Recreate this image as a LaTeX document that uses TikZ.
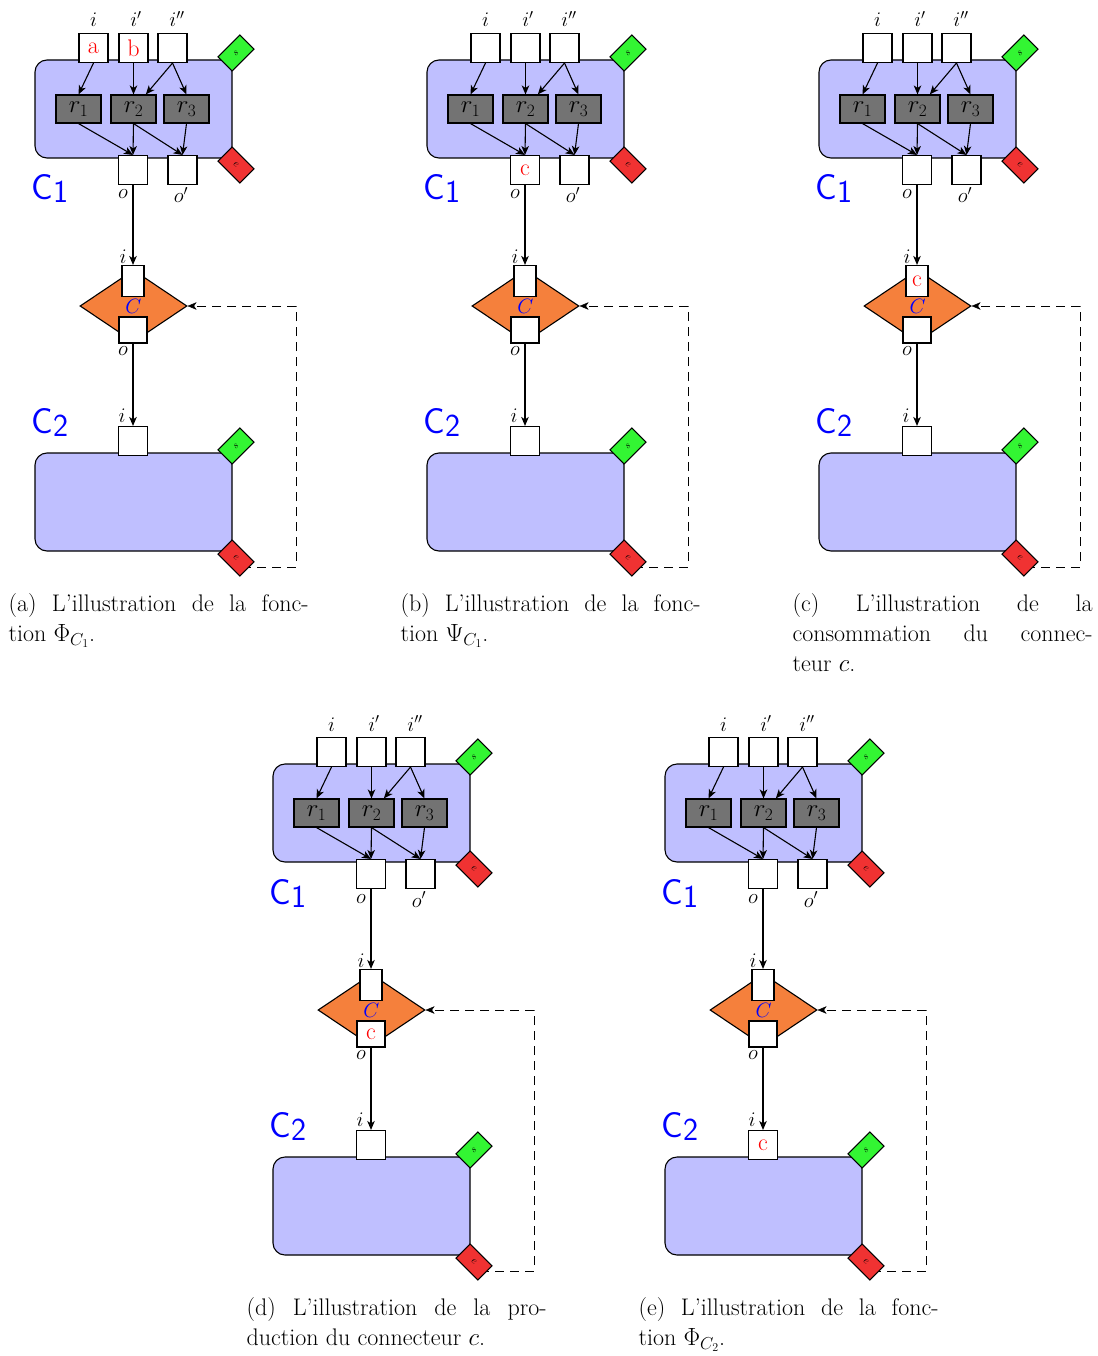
\documentclass[tikz,border=0pt]{standalone}
\usetikzlibrary{shapes.geometric,arrows.meta,backgrounds}
\definecolor{boxblue}{RGB}{191,191,255}
\definecolor{rgray}{RGB}{115,115,115}
\definecolor{sgreen}{RGB}{51,245,51}
\definecolor{ered}{RGB}{240,50,50}
\definecolor{dorange}{RGB}{245,128,60}
\tikzset{
  every picture/.style={line width=1.1pt},
  mycomp/.style={draw, fill=boxblue, rounded corners=12pt, minimum width=197pt, minimum height=98pt, inner sep=0pt},
  myport/.style={draw, fill=white, minimum width=29pt, minimum height=29pt, inner sep=1pt, text=red, font=\fontsize{24}{24}\selectfont},
  myrule/.style={draw, fill=rgray, minimum width=45pt, minimum height=28pt, inner sep=0pt, font=\fontsize{23}{23}\selectfont},
  sflag/.style={draw, fill=sgreen, minimum width=31pt, minimum height=20pt, inner sep=0pt, rotate=45, font=\fontsize{10}{10}\selectfont},
  eflag/.style={draw, fill=ered, minimum width=31pt, minimum height=20pt, inner sep=0pt, rotate=-45, font=\fontsize{10}{10}\selectfont},
  myconn/.style={draw, fill=dorange, diamond, minimum width=107pt, minimum height=72pt, inner sep=0pt, text=blue, font=\fontsize{22}{22}\selectfont},
  mylbl/.style={inner sep=0pt, font=\fontsize{22}{22}\selectfont},
  clab/.style={inner sep=0pt, text=blue, font=\sffamily\fontsize{36}{36}\selectfont},
  myarr/.style={-{Stealth[length=9pt,width=7.5pt,inset=2.5pt]}},
  myfb/.style={-{Stealth[length=9pt,width=7.5pt,inset=2.5pt]}, dash pattern=on 9pt off 6pt},
  mycapt/.style={anchor=north west, inner sep=0pt, text width=300pt, align=justify, font=\fontsize{24}{30}\selectfont},
}
\newcommand\mypanel[9]{%
\begin{scope}[shift={(#2,#3)}, name prefix=#1-]
  % component C1
  \node[mycomp] (C1) at (133.5,109) {};
  \node[myport] (in1) at (93.5,48) {#4};
  \node[myport] (in2) at (133.5,48) {#5};
  \node[myport] (in3) at (172.5,48) {};
  \node[mylbl, anchor=base] (li1) at (93.5,27) {$i$};
  \node[mylbl, anchor=base] (li2) at (136,27) {$i'$};
  \node[mylbl, anchor=base] (li3) at (177,27) {$i''$};
  \node[myrule] (r1) at (78.5,109) {$r_1$};
  \node[myrule] (r2) at (133.5,109) {$r_2$};
  \node[myrule] (r3) at (186.5,109) {$r_3$};
  \node[myport] (o1) at (133,170) {#6};
  \node[myport] (o2) at (182.5,170) {};
  \node[mylbl, anchor=base] (lo1) at (123,199) {$o$};
  \node[mylbl, anchor=base] (lo2) at (181,203) {$o'$};
  \node[sflag] (s1) at (236,53) {$s$};
  \node[eflag] (e1) at (236,165) {$e$};
  \node[clab, anchor=base west] (n1) at (31,200) {C\raisebox{-3pt}{\fontsize{32}{32}\selectfont 1}};
  \draw[myarr] (in1.south) -- (r1.north);
  \draw[myarr] (in2.south) -- (r2.north);
  \draw[myarr] (in3.south) -- (r2);
  \draw[myarr] (in3.south) -- (r3.north);
  \draw[myarr] (r1.south) -- (o1.north);
  \draw[myarr] (r2.south) -- (o1.north);
  \draw[myarr] (r2.south) -- (o2.north);
  \draw[myarr] (r3.south) -- (o2.north);
  % connector
  \node[myconn] (dia) at (133.5,306) {$C$};
  \node[myport, minimum width=22pt, minimum height=31pt] (di) at (133,281) {#7};
  \node[myport, minimum width=28pt, minimum height=26pt] (do) at (133,330) {#8};
  \node[mylbl, anchor=base] (ldi) at (123,263) {$i$};
  \node[mylbl, anchor=base] (ldo) at (123,355) {$o$};
  \draw[myarr] (o1) -- (di);
  % component C2
  \node[mycomp] (C2) at (133.5,502) {};
  \node[myport] (i2) at (133,441) {#9};
  \node[mylbl, anchor=base] (li4) at (122,422) {$i$};
  \node[sflag] (s2) at (236,446) {$s$};
  \node[eflag] (e2) at (236,558) {$e$};
  \node[clab, anchor=base west] (n2) at (31,433) {C\raisebox{-3pt}{\fontsize{32}{32}\selectfont 2}};
  \draw[myarr] (do) -- (i2);
  \coordinate (fb) at (296,567);
  \begin{scope}[on background layer]
    \draw[myfb] (e2.center) |- (fb) |- (dia.east);
  \end{scope}
\end{scope}}
\begin{document}
\begin{tikzpicture}[x=1pt,y=-1pt]
  \begin{scope}[on background layer]
    \path[fill=white] (0,0) rectangle (1097,1356);
  \end{scope}
  \useasboundingbox (0,0) rectangle (1097,1356);
  \mypanel{a}{0}{0}{a}{b}{}{}{}{}
  \mypanel{b}{392}{0}{}{}{c}{}{}{}
  \mypanel{c}{784}{0}{}{}{}{c}{}{}
  \mypanel{d}{238}{704}{}{}{}{}{c}{}
  \mypanel{e}{630}{704}{}{}{}{}{}{c}
  \node[mycapt] (capa) at (8,593) {(a) L’illustration de la fonc-\linebreak tion $\Phi_{C_1}$.};
  \node[mycapt] (capb) at (400,593) {(b) L’illustration de la fonc-\linebreak tion $\Psi_{C_1}$.};
  \node[mycapt] (capc) at (792,593) {(c) L’illustration de la\linebreak consommation du connec-\linebreak teur $c$.};
  \node[mycapt] (capd) at (246,1297) {(d) L’illustration de la pro-\linebreak duction du connecteur $c$.};
  \node[mycapt] (cape) at (638,1297) {(e) L’illustration de la fonc-\linebreak tion $\Phi_{C_2}$.};
\end{tikzpicture}
\end{document}
